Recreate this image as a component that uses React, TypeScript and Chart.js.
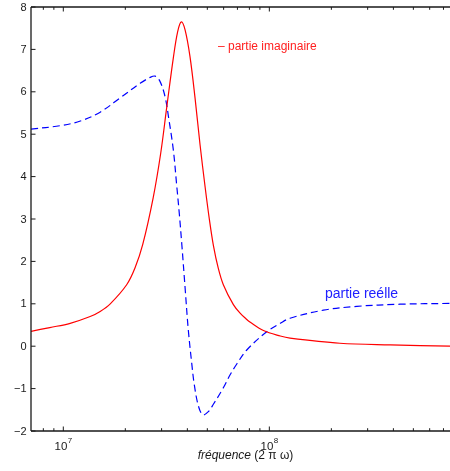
import { useEffect, useRef } from "react";
import { Chart, registerables } from "chart.js";

Chart.register(...registerables);

// Imaginary part (red, solid)
const imagFreq = [6.97e6, 8.6e6, 1.08e7, 1.35e7, 1.51e7, 1.69e7, 2.03e7, 2.23e7, 2.43e7, 2.73e7, 2.97e7, 3.18e7, 3.42e7, 3.59e7, 3.74e7, 3.9e7, 4.12e7, 4.36e7, 4.61e7, 4.88e7, 5.12e7, 5.35e7, 5.65e7, 5.98e7, 6.69e7, 7.21e7, 7.77e7, 8.05e7, 9.36e7, 1.13e8, 1.26e8, 2.2e8, 3.86e8, 7.53e8];
const imagValues = [0.35, 0.44, 0.54, 0.7, 0.82, 1.0, 1.45, 1.85, 2.4, 3.5, 4.55, 5.65, 6.8, 7.42, 7.65, 7.46, 6.83, 5.85, 4.75, 3.75, 2.98, 2.38, 1.84, 1.45, 0.98, 0.78, 0.63, 0.57, 0.37, 0.24, 0.19, 0.07, 0.03, 0.0];

// Real part (blue, dashed)
const realFreq = [6.97e6, 9.64e6, 1.21e7, 1.51e7, 1.88e7, 2.36e7, 2.64e7, 2.79e7, 2.95e7, 3.12e7, 3.24e7, 3.42e7, 3.55e7, 3.66e7, 3.76e7, 3.9e7, 4.04e7, 4.2e7, 4.32e7, 4.52e7, 4.75e7, 5.04e7, 5.35e7, 5.98e7, 6.44e7, 6.95e7, 7.77e7, 9.71e7, 1.13e8, 1.26e8, 1.83e8, 2.66e8, 4.31e8, 7.53e8];
const realValues = [5.12, 5.2, 5.31, 5.52, 5.85, 6.2, 6.34, 6.37, 6.24, 5.88, 5.41, 4.63, 3.8, 3.1, 2.4, 1.38, 0.4, -0.4, -0.9, -1.4, -1.62, -1.55, -1.37, -0.98, -0.68, -0.42, -0.09, 0.34, 0.54, 0.66, 0.85, 0.94, 0.99, 1.01];

// Axes
const xMin = 6.97e6;
const xMax = 7.53e8;
const yMin = -2;
const yMax = 8;
const yTicks = [-2, -1, 0, 1, 2, 3, 4, 5, 6, 7, 8];
const xMajorTicks = [1e7, 1e8];
const xMajorExponents = ["7", "8"];
const xMinorTicks = [8e6, 9e6, 2e7, 3e7, 4e7, 5e7, 6e7, 7e7, 8e7, 9e7, 2e8, 3e8, 4e8, 5e8, 6e8, 7e8];

const labelImag = "\u2013 partie imaginaire";
const labelReal = "partie re\u00e9lle";
const titleItalic = "fr\u00e9quence";
const titleNormal = " (2 \u03c0 \u03c9)";

const FONT = "'Liberation Sans', Arial, Helvetica, sans-serif";

const decorPlugin = {
  id: "decor",
  afterDraw(chart: any) {
    const ctx = chart.ctx as CanvasRenderingContext2D;
    const { left, right, top, bottom } = chart.chartArea;
    const xs = chart.scales.x;
    const ys = chart.scales.y;
    ctx.save();
    ctx.strokeStyle = "#1a1a1a";
    ctx.lineWidth = 1.3;
    ctx.beginPath();
    ctx.moveTo(left, top);
    ctx.lineTo(left, bottom);
    ctx.moveTo(left, bottom);
    ctx.lineTo(right + 2, bottom);
    ctx.moveTo(left, top);
    ctx.lineTo(right + 2, top);
    ctx.stroke();

    ctx.lineWidth = 1;
    ctx.beginPath();
    for (const v of yTicks) {
      const py = ys.getPixelForValue(v);
      ctx.moveTo(left, py);
      ctx.lineTo(left + 4.5, py);
    }
    for (const f of xMajorTicks) {
      const px = xs.getPixelForValue(f);
      ctx.moveTo(px, bottom);
      ctx.lineTo(px, bottom - 4.5);
      ctx.moveTo(px, top);
      ctx.lineTo(px, top + 4.5);
    }
    for (const f of xMinorTicks) {
      const px = xs.getPixelForValue(f);
      ctx.moveTo(px, bottom);
      ctx.lineTo(px, bottom - 2.8);
      ctx.moveTo(px, top);
      ctx.lineTo(px, top + 2.8);
    }
    ctx.stroke();

    ctx.fillStyle = "#1a1a1a";
    ctx.font = `11px ${FONT}`;
    ctx.textAlign = "right";
    ctx.textBaseline = "middle";
    for (const v of yTicks) {
      const py = ys.getPixelForValue(v);
      const txt = v < 0 ? "\u2212" + Math.abs(v) : String(v);
      ctx.fillText(txt, left - 4.5, py + 0.5);
    }

    ctx.textBaseline = "alphabetic";
    xMajorTicks.forEach((f, i) => {
      const px = xs.getPixelForValue(f);
      ctx.font = `11.5px ${FONT}`;
      ctx.textAlign = "right";
      ctx.fillText("10", px + 4, bottom + 19);
      ctx.font = `8px ${FONT}`;
      ctx.textAlign = "left";
      ctx.fillText(xMajorExponents[i], px + 4.5, bottom + 12);
    });

    ctx.font = `italic 12px ${FONT}`;
    const w1 = ctx.measureText(titleItalic).width;
    ctx.font = `12px ${FONT}`;
    const w2 = ctx.measureText(titleNormal).width;
    const cx = 245.5;
    const startX = cx - (w1 + w2) / 2;
    ctx.textAlign = "left";
    ctx.font = `italic 12px ${FONT}`;
    ctx.fillText(titleItalic, startX, 459);
    ctx.font = `12px ${FONT}`;
    ctx.fillText(titleNormal, startX + w1, 459);

    ctx.textBaseline = "middle";
    ctx.fillStyle = "#ff2020";
    ctx.font = `12px ${FONT}`;
    ctx.fillText(labelImag, 218, 47);
    ctx.fillStyle = "#2020ff";
    ctx.font = `14px ${FONT}`;
    ctx.fillText(labelReal, 325, 294);
    ctx.restore();
  },
};

export default function App() {
  const ref = useRef<HTMLCanvasElement | null>(null);
  useEffect(() => {
    document.body.style.margin = "0";
    if (!ref.current) return;
    const chart = new Chart(ref.current, {
      type: "line",
      data: {
        datasets: [
          {
            label: "partie imaginaire",
            data: imagFreq.map((f, i) => ({ x: f, y: imagValues[i] })),
            borderColor: "#ff0000",
            borderWidth: 1.2,
            pointRadius: 0,
            fill: false,
            tension: 0.35,
          },
          {
            label: "partie reélle",
            data: realFreq.map((f, i) => ({ x: f, y: realValues[i] })),
            borderColor: "#0000ff",
            borderWidth: 1.2,
            borderDash: [7, 4],
            pointRadius: 0,
            fill: false,
            tension: 0.35,
          },
        ],
      },
      options: {
        animation: false,
        responsive: false,
        layout: { padding: { left: 31, top: 7, right: 0, bottom: 40 } },
        plugins: { legend: { display: false }, tooltip: { enabled: false } },
        scales: {
          x: { type: "logarithmic", min: xMin, max: xMax, display: false },
          y: { type: "linear", min: yMin, max: yMax, display: false },
        },
      },
      plugins: [decorPlugin],
    } as any);
    return () => chart.destroy();
  }, []);
  return (
    <div style={{ width: 450, height: 471 }}>
      <canvas ref={ref} width={450} height={471} style={{ display: "block" }} />
    </div>
  );
}
